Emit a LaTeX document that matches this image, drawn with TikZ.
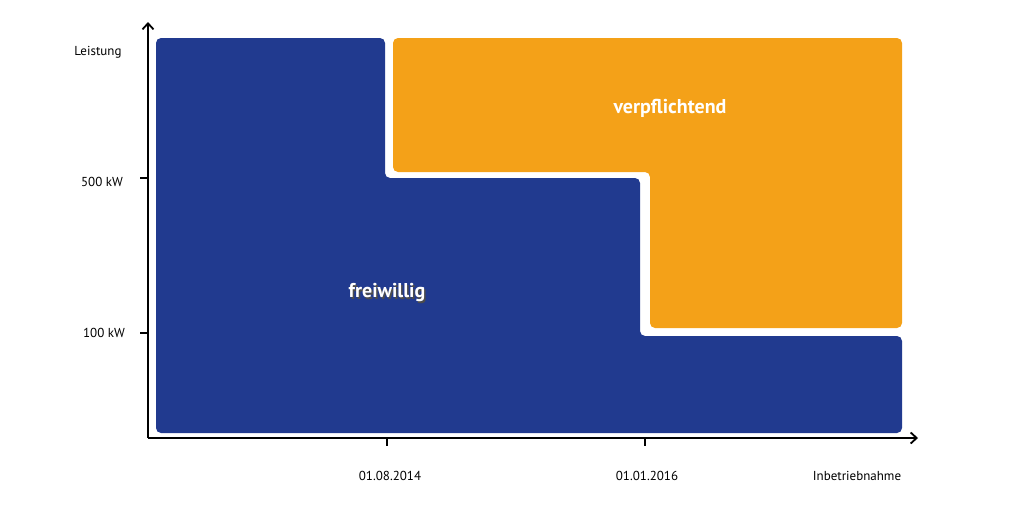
\documentclass[tikz,border=0pt]{standalone}
\usepackage{fontspec}
\usetikzlibrary{arrows.meta}
\setmainfont{PT Sans}
\definecolor{cblue}{HTML}{213A8F}
\definecolor{corange}{HTML}{F4A118}
\begin{document}
\begin{tikzpicture}[x=1pt,y=-1pt,
  lab/.style={font=\fontsize{13}{15}\selectfont, text=black},
  big/.style={font=\fontsize{20}{24}\selectfont\bfseries, text=white},
  ax/.style={line width=1.8pt, -{Straight Barb[length=6pt,width=11pt]}},
  tick/.style={line width=1.8pt}]
\useasboundingbox (0,0) rectangle (1024,512);
\fill[cblue, rounded corners=5pt] (156,38) -- (385,38) -- (385,178) -- (640,178) -- (640,336) -- (902,336) -- (902,433) -- (156,433) -- cycle;
\fill[corange, rounded corners=5pt] (393,38) -- (902,38) -- (902,328) -- (650,328) -- (650,172) -- (393,172) -- cycle;
\draw[ax] (148,438) -- (148,22);
\draw[ax] (148,438) -- (918,438);
\draw[tick] (140,178) -- (148,178);
\draw[tick] (140,333) -- (148,333);
\draw[tick] (387,438) -- (387,446);
\draw[tick] (645,438) -- (645,446);
\node[lab] (ly) at (98,52) {Leistung};
\node[lab] (l500) at (102,182) {500 kW};
\node[lab] (l100) at (104,333) {100 kW};
\node[lab] (d1) at (390,476) {01.08.2014};
\node[lab] (d2) at (647,476) {01.01.2016};
\node[lab] (lx) at (857,476) {Inbetriebnahme};
\node[big, text=black!70] at (388.5,294.5) {freiwillig};
\node[big] (fw) at (387,293) {freiwillig};
\node[big] (vp) at (670,108) {verpflichtend};
\end{tikzpicture}
\end{document}
